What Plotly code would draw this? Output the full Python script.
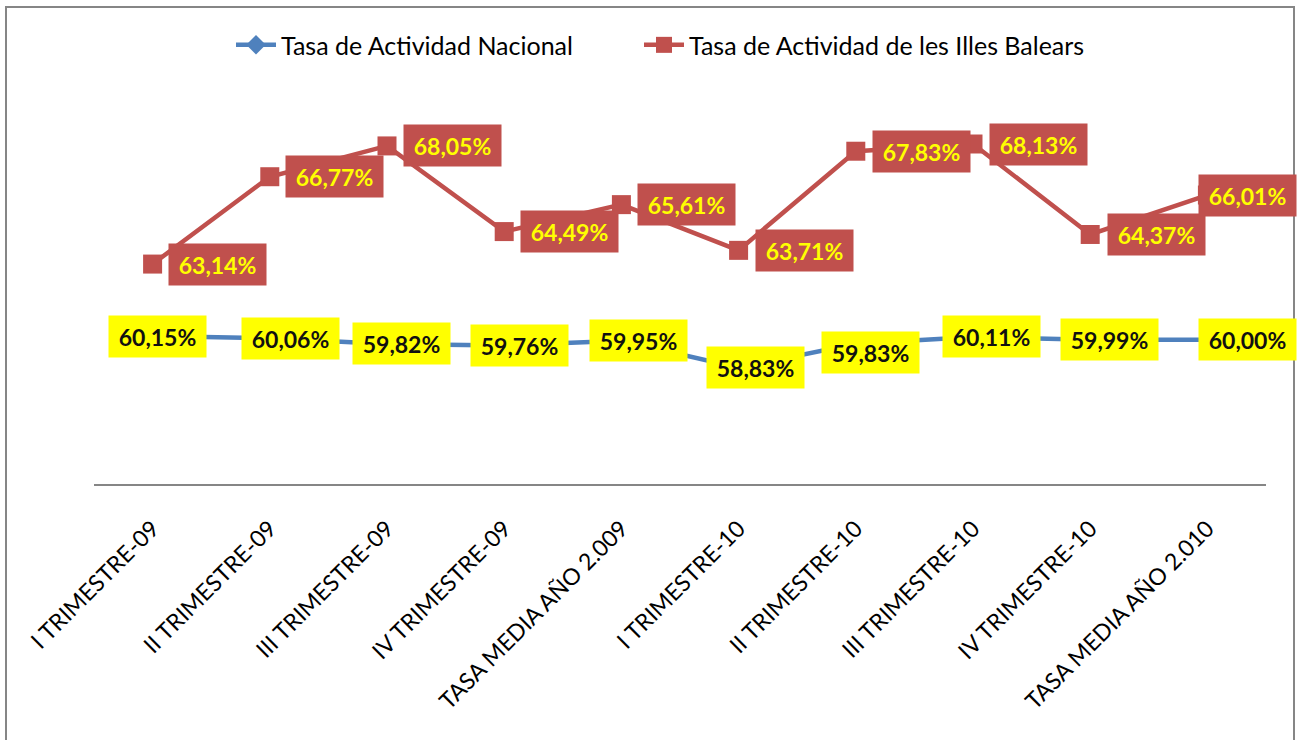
import plotly.graph_objects as go

# Tasa de actividad trimestral: España frente a Illes Balears (2009-2010)
categorias = [
    "I TRIMESTRE-09", "II TRIMESTRE-09", "III TRIMESTRE-09", "IV TRIMESTRE-09",
    "TASA MEDIA AÑO 2.009",
    "I TRIMESTRE-10", "II TRIMESTRE-10", "III TRIMESTRE-10", "IV TRIMESTRE-10",
    "TASA MEDIA AÑO 2.010",
]
tasa_nacional = [60.15, 60.06, 59.82, 59.76, 59.95, 58.83, 59.83, 60.11, 59.99, 60.00]
tasa_baleares = [63.14, 66.77, 68.05, 64.49, 65.61, 63.71, 67.83, 68.13, 64.37, 66.01]

nombre_nacional = "Tasa de Actividad Nacional"
nombre_baleares = "Tasa de Actividad de les Illes Balears"

# Desplazamientos (px) de las etiquetas respecto a su punto
dx_nacional = [5, 21, 14, 15, 17, 17, 15, 18, 19, 40]
dy_nacional = [0, 0, 0, 0, 0, 0, -9, 0, 0, 0]
dx_baleares = [65, 65, 65, 65, 65, 66, 66, 65, 66, 40]

AZUL = "#4F81BD"
ROJO = "#C0504D"
AMARILLO = "#FFFF00"
FUENTE = "Lato, Carlito, Calibri, sans-serif"


def fmt(v):
    return f"{v:.2f}".replace(".", ",") + "%"


fig = go.Figure()
fig.add_trace(go.Scatter(
    x=categorias, y=tasa_nacional, name=nombre_nacional,
    mode="lines+markers", legend="legend",
    line=dict(color=AZUL, width=4.5),
    marker=dict(symbol="diamond", size=15, color=AZUL),
))
fig.add_trace(go.Scatter(
    x=categorias, y=tasa_baleares, name=nombre_baleares,
    mode="lines+markers", legend="legend2",
    line=dict(color=ROJO, width=4.5),
    marker=dict(symbol="square", size=19, color=ROJO),
))

anotaciones = []
for i, (c, v) in enumerate(zip(categorias, tasa_nacional)):
    anotaciones.append(dict(
        x=c, y=v, xref="x", yref="y", text=f"<b>{fmt(v)}</b>", showarrow=False,
        xanchor="center", yanchor="middle", xshift=dx_nacional[i], yshift=dy_nacional[i],
        bgcolor=AMARILLO, width=97, height=41, borderpad=0,
        font=dict(family=FUENTE, size=23, color="#111111"),
    ))
for i, (c, v) in enumerate(zip(categorias, tasa_baleares)):
    anotaciones.append(dict(
        x=c, y=v, xref="x", yref="y", text=f"<b>{fmt(v)}</b>", showarrow=False,
        xanchor="center", yanchor="middle", xshift=dx_baleares[i],
        bgcolor=ROJO, width=97, height=41, borderpad=0,
        font=dict(family=FUENTE, size=23, color=AMARILLO),
    ))

leyenda = dict(
    orientation="h", xanchor="left", y=1.14, yanchor="middle",
    font=dict(family=FUENTE, size=25, color="#000000"),
    itemwidth=40, bgcolor="rgba(0,0,0,0)",
)

fig.update_layout(
    width=1301, height=740,
    margin=dict(l=94, r=35, t=99, b=256),
    paper_bgcolor="white", plot_bgcolor="white",
    font=dict(family=FUENTE, color="#000000"),
    showlegend=True,
    legend=dict(leyenda, x=(231 - 94) / 1172),
    legend2=dict(leyenda, x=(639 - 94) / 1172),
    annotations=anotaciones,
    shapes=[dict(
        type="rect", xref="paper", yref="paper",
        x0=-88 / 1172, x1=1200 / 1172, y0=-300 / 385, y1=477 / 385,
        line=dict(color="#868686", width=2), fillcolor="rgba(0,0,0,0)", layer="below",
    )],
)
fig.update_xaxes(
    type="category", range=[-0.5, 9.5],
    showline=True, linecolor="#868686", linewidth=2,
    showgrid=False, ticks="", tickangle=-45,
    tickfont=dict(family=FUENTE, size=23, color="#000000"),
    ticklabelstandoff=20,
)
fig.update_yaxes(
    range=[54, 70], visible=False, showgrid=False, zeroline=False,
)

fig.write_html("out.html")
